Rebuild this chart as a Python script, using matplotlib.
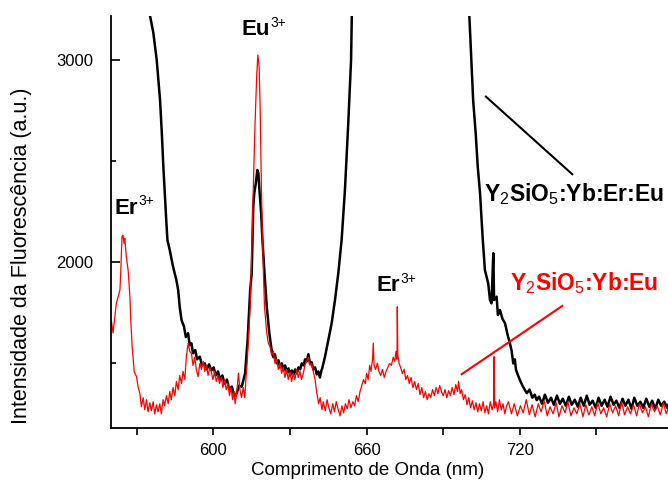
import numpy as np
import matplotlib
matplotlib.use("Agg")
import matplotlib.pyplot as plt
from matplotlib.ticker import MultipleLocator, FixedLocator

plt.rcParams['font.family'] = ['Liberation Sans', 'DejaVu Sans']
plt.rcParams['mathtext.fontset'] = 'custom'
plt.rcParams['mathtext.rm'] = 'Liberation Sans'
plt.rcParams['mathtext.it'] = 'Liberation Sans'
plt.rcParams['mathtext.bf'] = 'Liberation Sans:bold'

# Y2SiO5:Yb:Er:Eu  (black)  wavelength (nm) / intensity (a.u.)
black_nm = [572.5, 575.2, 576.5, 577.8, 579.1, 579.8, 580.4, 581.1, 581.6, 582.0,
            582.9, 584.2, 585.5, 586.2, 586.8, 587.5, 588.5, 589.2, 590.1, 590.7,
            591.4, 592.0, 592.9, 593.6, 594.7, 595.5, 596.6, 597.4, 598.3, 599.2,
            600.1, 600.9, 601.8, 602.6, 603.5, 604.4, 605.3, 606.2, 607.2, 608.1,
            609.1, 610.0, 611.1, 612.4, 613.4, 614.4, 615.0, 615.6, 616.0, 616.6,
            617.2, 617.6, 618.1, 618.7, 619.2, 620.0, 620.9, 621.9, 622.8, 623.5,
            624.1, 624.8, 625.5, 626.1, 626.8, 627.4, 628.1, 628.8, 629.4, 630.1,
            630.7, 631.4, 632.0, 632.7, 633.3, 634.0, 634.6, 635.3, 635.9, 636.6,
            637.2, 637.8, 638.5, 639.1, 639.8, 640.5, 641.1, 641.7, 642.3, 642.6,
            643.7, 645.0, 646.3, 647.6, 648.9, 650.2, 651.5, 652.8, 653.9, 654.2,
            654.5,
            699.9, 700.2, 701.1, 701.7, 702.7, 703.5, 704.4, 705.4, 706.3, 707.6,
            708.3, 708.9, 709.6, 709.9, 710.9, 711.4, 712.2, 713.2, 714.2, 715.2,
            716.1, 716.8, 717.4, 718.0, 718.5, 719.3, 720.0, 721.0, 722.7, 723.8,
            724.9, 725.8, 726.6,
            727.5, 728.7, 729.8, 731.0, 732.2, 733.3, 734.5, 735.7, 736.8, 738.0,
            739.2, 740.3, 741.5, 742.7, 743.8, 745.0, 746.2, 747.3, 748.5, 749.7,
            750.8, 752.0, 753.2, 754.3, 755.5, 756.7, 757.8, 759.0, 760.2, 761.3,
            762.5, 763.7, 764.8, 766.0, 767.2, 768.3, 769.5, 770.7, 771.8, 773.0,
            774.2, 775.3, 776.5, 777.7, 778.8]
black_int = [3447, 3219, 3134, 3001, 2804, 2639, 2473, 2308, 2193, 2110,
             2061, 1978, 1912, 1863, 1780, 1715, 1681, 1630, 1649, 1590,
             1599, 1550, 1566, 1520, 1533, 1490, 1500, 1470, 1495, 1465,
             1480, 1440, 1460, 1420, 1440, 1400, 1420, 1370, 1385, 1340,
             1350, 1390, 1384, 1451, 1616, 1863, 1946, 2275, 2342, 2391,
             2457, 2441, 2342, 2243, 2110, 1946, 1780, 1649, 1566, 1530,
             1545, 1500, 1515, 1480, 1500, 1465, 1490, 1455, 1475, 1440,
             1465, 1445, 1470, 1450, 1480, 1470, 1500, 1490, 1520, 1510,
             1545, 1500, 1505, 1470, 1480, 1445, 1460, 1430, 1465, 1475,
             1533, 1616, 1698, 1813, 1946, 2110, 2358, 2688, 3001, 3224,
             3447,
             3447, 3224, 2968, 2803, 2639, 2473, 2342, 2127, 1962, 1896,
             1813, 1797, 2045, 1813, 1830, 1739, 1764, 1720, 1698, 1640,
             1599, 1560, 1500, 1520, 1467, 1440, 1418, 1390, 1352, 1370,
             1330, 1345, 1318,
             1335, 1300, 1345, 1305, 1330, 1295, 1340, 1300, 1325, 1290,
             1335, 1295, 1320, 1285, 1330, 1290, 1340, 1295, 1315, 1280,
             1330, 1290, 1320, 1285, 1335, 1295, 1315, 1280, 1325, 1290,
             1320, 1275, 1330, 1290, 1310, 1280, 1325, 1285, 1315, 1275,
             1320, 1290, 1310, 1280, 1315]

# Y2SiO5:Yb:Eu  (red)
red_nm = [560.1, 560.7, 561.4, 562.0, 562.7, 563.4, 563.7, 564.2, 564.6, 565.0,
          565.3, 565.9, 566.6, 567.3, 567.7, 568.2, 569.0, 569.9, 570.5, 571.2,
          571.8, 572.5, 573.1, 573.8, 574.4, 575.1, 575.7, 576.4, 577.0, 577.7,
          578.3, 579.0, 579.6, 580.3, 580.9, 581.6, 582.3, 582.9, 583.5, 584.2,
          584.9, 585.5, 586.2, 586.8, 587.5, 588.1, 588.8, 589.4, 590.1, 590.7,
          591.4, 592.0, 592.7, 593.3, 594.0, 594.7, 595.3, 596.0, 596.6, 597.3,
          597.9, 598.6, 599.2, 599.8, 600.5, 601.1, 601.8, 602.4, 603.1, 603.7,
          604.4, 605.0, 605.7, 606.3, 606.9, 607.5, 608.1, 608.5, 609.1, 609.8,
          610.4, 611.0, 611.7, 612.3, 612.7, 613.2, 613.7, 614.4, 615.0, 615.6,
          616.3, 617.0, 617.4, 617.9, 618.3, 618.7, 619.2, 620.0, 620.9, 621.5,
          622.2, 622.8, 623.5, 624.1, 624.8, 625.4, 626.1, 626.7, 627.4, 628.0,
          628.7, 629.3, 630.0, 630.6, 631.3, 631.9, 632.6, 633.2, 633.9, 634.5,
          635.2, 635.8, 636.5, 637.2, 637.8, 638.5, 639.1, 639.8, 640.5, 641.2,
          641.8, 642.5, 643.0, 643.8, 644.5, 645.2, 646.0, 646.7, 647.4, 648.1,
          648.9, 649.6, 650.3, 651.0, 651.7, 652.4, 653.1, 653.8, 654.6, 655.3,
          656.0, 656.7, 657.4, 658.1, 658.8, 659.5, 660.0, 660.6, 661.2, 661.7,
          662.3, 662.6, 662.9, 663.5, 664.2, 664.8, 665.5, 666.2, 666.9, 667.6,
          668.3, 669.0, 669.7, 670.4, 671.0, 671.5, 671.9, 672.0, 672.2, 672.7,
          673.3, 674.0, 674.7, 675.3, 676.0, 676.7, 677.4, 678.1, 678.8, 679.5,
          680.2, 680.9, 681.6, 682.3, 683.0, 683.7, 684.4, 685.1, 685.8, 686.5,
          687.2, 687.9, 688.6, 689.3, 690.0, 690.7, 691.4, 692.1, 692.8, 693.5,
          694.2, 694.9, 695.6, 696.0, 696.6, 697.2, 697.9, 698.6, 699.3, 700.0,
          700.7, 701.4, 702.1, 702.8, 703.5, 704.2, 704.9, 705.6, 706.3, 707.0,
          707.7, 708.4, 709.1, 709.7, 709.9, 710.1, 710.6, 711.3, 712.0, 712.7,
          713.4, 714.1, 714.8,
          715.5, 716.7, 717.8, 719.0, 720.2, 721.3, 722.5, 723.7, 724.8, 726.0,
          727.2, 728.3, 729.5, 730.7, 731.8, 733.0, 734.2, 735.3, 736.5, 737.7,
          738.8, 740.0, 741.2, 742.3, 743.5, 744.7, 745.8, 747.0, 748.2, 749.3,
          750.5, 751.7, 752.8, 754.0, 755.2, 756.3, 757.5, 758.7, 759.8, 761.0,
          762.2, 763.3, 764.5, 765.7, 766.8, 768.0, 769.2, 770.3, 771.5, 772.7,
          773.8, 775.0, 776.2, 777.3, 778.5]
red_int = [1706, 1650, 1731, 1797, 1830, 1863, 1945, 2127, 2135, 2094,
           2119, 2028, 1962, 1830, 1698, 1582, 1458, 1434, 1384, 1351,
           1285, 1330, 1270, 1320, 1260, 1305, 1265, 1310, 1250, 1295,
           1260, 1300, 1250, 1320, 1290, 1340, 1300, 1360, 1320, 1380,
           1340, 1410, 1370, 1440, 1400, 1460, 1420, 1533, 1599, 1560,
           1549, 1490, 1530, 1470, 1434, 1500, 1470, 1510, 1460, 1490,
           1440, 1480, 1458, 1420, 1460, 1410, 1440, 1400, 1430, 1380,
           1420, 1370, 1400, 1340, 1380, 1320, 1360, 1300, 1350, 1451,
           1368, 1330, 1380, 1330, 1417, 1500, 1616, 1780, 2045, 2358,
           2688, 2936, 3026, 2968, 2770, 2441, 2110, 1780, 1649, 1600,
           1582, 1540, 1560, 1500, 1520, 1470, 1500, 1450, 1480, 1430,
           1470, 1420, 1460, 1410, 1450, 1420, 1470, 1430, 1460, 1420,
           1450, 1490, 1510, 1530, 1490, 1500, 1460, 1420, 1352, 1300,
           1330, 1270, 1310, 1265, 1320, 1280, 1250, 1300, 1260, 1310,
           1270, 1240, 1290, 1255, 1300, 1275, 1320, 1280, 1310, 1290,
           1340, 1310, 1360, 1390, 1420, 1400, 1450, 1420, 1490, 1460,
           1520, 1600, 1490, 1470, 1500, 1460, 1440, 1470, 1430, 1460,
           1480, 1500, 1490, 1530, 1510, 1560, 1520, 1780, 1540, 1500,
           1480, 1450, 1470, 1420, 1440, 1400, 1430, 1380, 1410, 1370,
           1400, 1345, 1380, 1330, 1360, 1320, 1350, 1330, 1370, 1340,
           1380, 1350, 1390, 1360, 1340, 1370, 1330, 1365, 1340, 1380,
           1345, 1395, 1360, 1410, 1350, 1370, 1320, 1345, 1295, 1330,
           1280, 1315, 1270, 1305, 1260, 1300, 1265, 1310, 1255, 1290,
           1250, 1310, 1270, 1300, 1533, 1280, 1310, 1260, 1320, 1270,
           1300, 1250, 1290,
           1310, 1250, 1300, 1240, 1290, 1255, 1320, 1245, 1295, 1235,
           1300, 1260, 1315, 1240, 1285, 1250, 1305, 1235, 1290, 1255,
           1310, 1240, 1280, 1250, 1300, 1235, 1295, 1245, 1285, 1240,
           1305, 1250, 1280, 1235, 1300, 1255, 1290, 1240, 1310, 1245,
           1285, 1250, 1295, 1240, 1300, 1255, 1285, 1235, 1300, 1260,
           1290, 1245, 1305, 1250, 1290]

fig = plt.figure(figsize=(6.68, 4.93), dpi=100)
ax = fig.add_axes([111 / 668, 65 / 493, 557 / 668, 412 / 493])

ax.plot(black_nm, black_int, color='black', lw=1.8)
ax.plot(red_nm, red_int, color='red', lw=0.9)

ax.set_xlim(559.9, 778.0)
ax.set_ylim(1180, 3219)

ax.spines['top'].set_visible(False)
ax.spines['right'].set_visible(False)
for s in ('left', 'bottom'):
    ax.spines[s].set_linewidth(1.3)

ax.xaxis.set_major_locator(FixedLocator([600, 660, 720]))
ax.xaxis.set_minor_locator(FixedLocator([570, 630, 690, 750]))
ax.yaxis.set_major_locator(MultipleLocator(1000))
ax.yaxis.set_minor_locator(MultipleLocator(500))
ax.tick_params(axis='x', which='both', direction='out', length=5, width=1.2,
               labelsize=12, pad=6)
ax.tick_params(axis='y', which='major', direction='in', length=6.5, width=1.2,
               labelsize=12, pad=13)
ax.tick_params(axis='y', which='minor', direction='in', length=3.5, width=1.2)

ax.set_xlabel('Comprimento de Onda (nm)', fontsize=13.5)
ax.xaxis.set_label_coords(0.461, -0.083)
ax.set_ylabel('Intensidade da Fluorescência (a.u.)', fontsize=15.5)
ax.yaxis.set_label_coords(-0.142, 0.418)


def ion_label(x, y, name):
    """ Bold ion symbol with a small, raised 3+ charge """
    t = ax.text(x, y, name, fontsize=16, fontweight='bold')
    ax.annotate('3+', xy=(1, 1), xycoords=t, xytext=(0.5, 2.5),
                textcoords='offset points', fontsize=10, va='top', ha='left')


ion_label(611.1, 3125, 'Eu')
ion_label(561.1, 2240, 'Er')
ion_label(663.9, 1858, 'Er')

# sample labels with pointer lines
ax.text(705.9, 2304, 'Y$_2$SiO$_5$:Yb:Er:Eu', fontsize=16.5,
        fontweight='bold', clip_on=False)
ax.plot([706.7, 740.5], [2820, 2436], color='black', lw=1.5)
ax.text(716.1, 1860, 'Y$_2$SiO$_5$:Yb:Eu', fontsize=16.5,
        fontweight='bold', color='red')
ax.plot([697.2, 736.6], [1446, 1784], color='red', lw=1.5)

fig.savefig('out.png', dpi=100)
